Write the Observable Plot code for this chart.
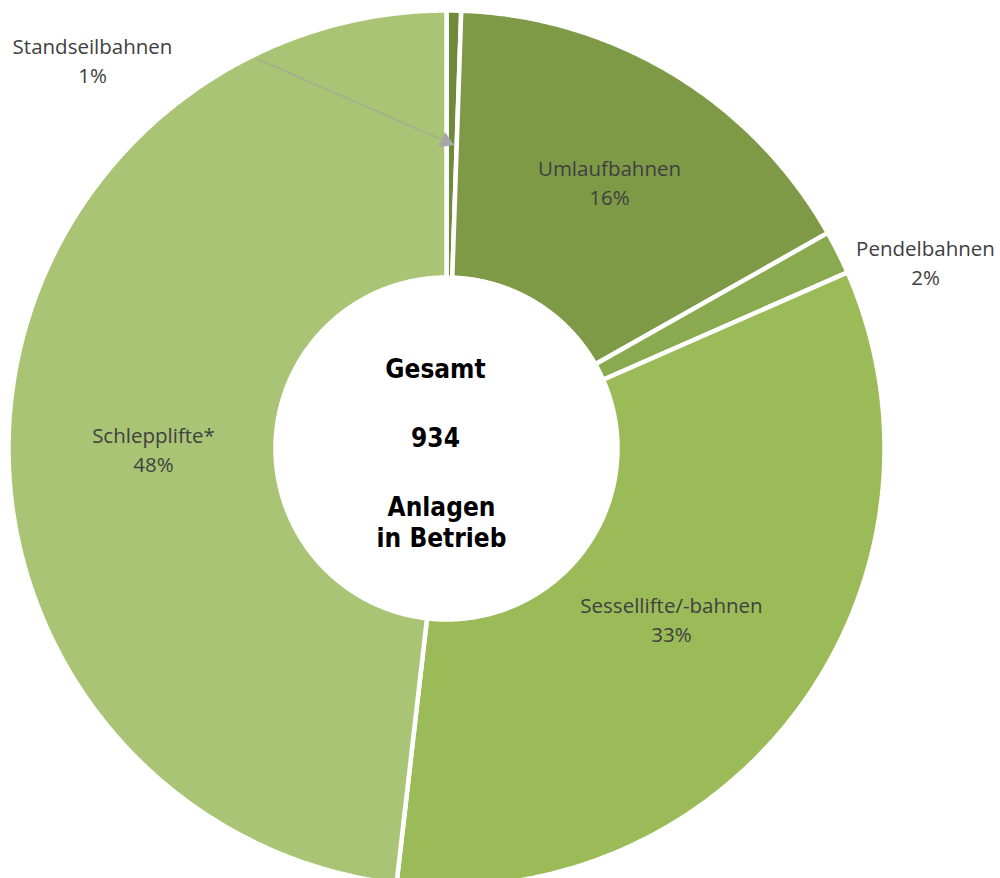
<!DOCTYPE html>
<html>
<head>
<meta charset="utf-8">
<script src="https://cdn.jsdelivr.net/npm/d3@7"></script>
<script src="https://cdn.jsdelivr.net/npm/@observablehq/plot@0.6"></script>
<style>
  html, body { margin: 0; padding: 0; background: #fff; overflow: hidden; }
  #chart svg { display: block; }
</style>
</head>
<body>
<div id="chart"></div>
<script>
// ---- data ----
const categories = ["Standseilbahnen", "Umlaufbahnen", "Pendelbahnen", "Sessellifte/-bahnen", "Schlepplifte*"];
const counts = [5, 152, 15, 312, 450];
const percentLabels = ["1%", "16%", "2%", "33%", "48%"];
const centerLines = ["Gesamt", "934", "Anlagen", "in Betrieb"];

// ---- styles / layout ----
const colors = ["#6f8a3a", "#7f9a46", "#8aaa4f", "#9bbb59", "#a9c474"];
const cx = 446, cy = 448, R = 438, r0 = 171;
// label anchors (baseline of name line) in pixel space
const labelAnchors = [[92, 53], [609, 175], [925, 255], [671, 612], [153, 442]];
const centerAnchors = [[435, 377], [435, 446], [441, 515], [441, 546]];

const total = d3.sum(counts);
const rows = [];
let cum = 0;
categories.forEach((cat, i) => {
  const a0 = cum / total * 2 * Math.PI;
  cum += counts[i];
  const a1 = cum / total * 2 * Math.PI;
  const n = Math.max(2, Math.ceil((a1 - a0) / (Math.PI / 360)));
  for (let k = 0; k <= n; k++) {
    const a = a0 + (a1 - a0) * k / n;
    rows.push({cat, x: cx + R * Math.sin(a), y: cy - R * Math.cos(a)});
  }
  for (let k = n; k >= 0; k--) {
    const a = a0 + (a1 - a0) * k / n;
    rows.push({cat, x: cx + r0 * Math.sin(a), y: cy - r0 * Math.cos(a)});
  }
});

const labelRows = [];
categories.forEach((cat, i) => {
  const [lx, ly] = labelAnchors[i];
  labelRows.push({x: lx, y: ly, t: cat});
  labelRows.push({x: lx, y: ly + 29, t: percentLabels[i]});
});
const centerRows = centerLines.map((t, i) => ({x: centerAnchors[i][0], y: centerAnchors[i][1], t}));

const tip = {x: 450, y: 143};
const start = {x: 258, y: 59};

const chart = Plot.plot({
  width: 1000,
  height: 878,
  margin: 0,
  x: {domain: [0, 1000], range: [0, 1000], axis: null},
  y: {domain: [0, 878], range: [0, 878], axis: null},
  color: {domain: categories, range: colors},
  marks: [
    Plot.line(rows, {x: "x", y: "y", z: "cat", fill: "cat", stroke: "white", strokeWidth: 4.5, curve: "linear-closed", strokeLinejoin: "miter"}),
    Plot.link([{x1: start.x, y1: start.y, x2: tip.x - 8, y2: tip.y - 3.5}], {x1: "x1", y1: "y1", x2: "x2", y2: "y2", stroke: "#a0a0a0", strokeWidth: 2, strokeDasharray: "1.5,1.5"}),
    Plot.dot([{x: tip.x - 4.5, y: tip.y - 2}], {x: "x", y: "y", symbol: "triangle", r: 6, fill: "#a6a6a6", stroke: "none", rotate: 114}),
    Plot.text(labelRows, {x: "x", y: "y", text: "t", textAnchor: "middle", lineAnchor: "bottom", fontSize: 20.5, fill: "#404040", fontFamily: "Open Sans"}),
    Plot.text(centerRows, {x: "x", y: "y", text: "t", textAnchor: "middle", lineAnchor: "bottom", fontSize: 26, fontWeight: "bold", fill: "#000", fontFamily: "DejaVu Sans Condensed, DejaVu Sans"})
  ]
});
document.getElementById("chart").appendChild(chart);
</script>
</body>
</html>
